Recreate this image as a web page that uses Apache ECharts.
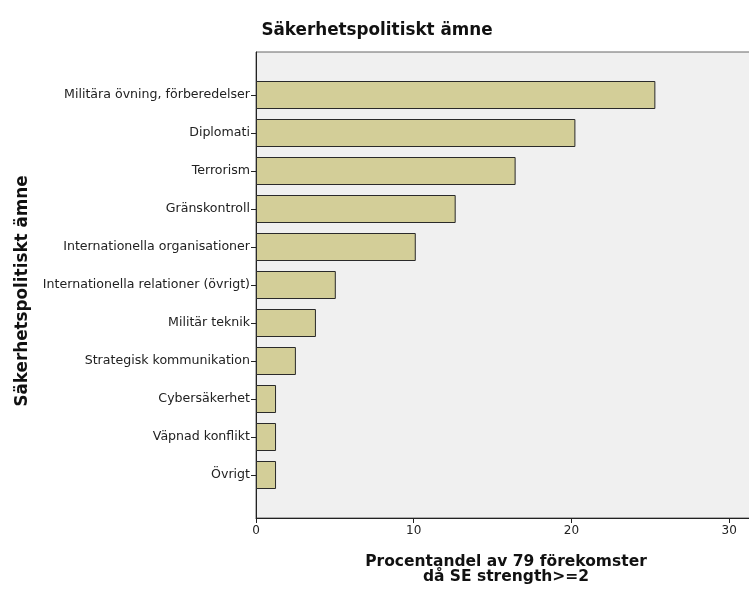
<!DOCTYPE html>
<html>
<head>
<meta charset="utf-8">
<script src="https://cdn.jsdelivr.net/npm/echarts@6/dist/echarts.min.js"></script>
<style>html,body{margin:0;padding:0;background:#fff;}#c{width:749px;height:590px;}</style>
</head>
<body>
<div id="c"></div>
<script>
const categories = [
  "Militära övning, förberedelser",
  "Diplomati",
  "Terrorism",
  "Gränskontroll",
  "Internationella organisationer",
  "Internationella relationer (övrigt)",
  "Militär teknik",
  "Strategisk kommunikation",
  "Cybersäkerhet",
  "Väpnad konflikt",
  "Övrigt"
];
const percentages = [25.32, 20.25, 16.46, 12.66, 10.13, 5.06, 3.80, 2.53, 1.27, 1.27, 1.27];
const xTicks = [0, 10, 20, 30];
const titleText = "Säkerhetspolitiskt ämne";
const yName = "Säkerhetspolitiskt ämne";
const xName = "Procentandel av 79 förekomster\ndå SE strength>=2";

const chart = echarts.init(document.getElementById('c'), null, {renderer: 'canvas'});
const FONT = 'DejaVu Sans';
const XMAX = 31.7;
chart.setOption({
  animation: false,
  backgroundColor: '#ffffff',
  title: {
    text: titleText,
    left: 372, top: 17, textAlign: 'center',
    textStyle: {fontFamily: FONT, fontSize: 16.8, fontWeight: 'bold', color: '#111'}
  },
  graphic: [
    {type: 'text', x: 23, y: 291, rotation: Math.PI / 2,
     style: {text: yName, fontFamily: FONT, fontSize: 16.8, fontWeight: 'bold', fill: '#111', align: 'center', verticalAlign: 'middle'}}
  ],
  grid: [
    {left: 256, top: 52, width: 500, height: 466, show: true, backgroundColor: '#f0f0f0', borderColor: '#666', borderWidth: 1, outerBoundsMode: 'none', containLabel: false},
    {left: 256, top: 76, width: 500, height: 418, outerBoundsMode: 'none', containLabel: false}
  ],
  xAxis: [
    {gridIndex: 0, type: 'value', min: 0, max: XMAX, interval: 10,
     name: xName, nameLocation: 'middle', nameGap: 36,
     nameTextStyle: {fontFamily: FONT, fontSize: 15.5, fontWeight: 'bold', color: '#111', lineHeight: 15, verticalAlign: 'top'},
     axisLine: {show: true, lineStyle: {color: '#222', width: 1}},
     axisTick: {show: true, length: 5, lineStyle: {color: '#222'}},
     splitLine: {show: false},
     axisLabel: {fontFamily: FONT, fontSize: 12, color: '#222', margin: 7,
       formatter: v => xTicks.indexOf(v) >= 0 ? String(v) : ''}},
    {gridIndex: 1, type: 'value', min: 0, max: XMAX, show: false, splitLine: {show: false}}
  ],
  yAxis: [
    {gridIndex: 0, type: 'value', min: 0, max: 1,
     axisLine: {show: true, lineStyle: {color: '#222', width: 1}},
     axisTick: {show: false}, axisLabel: {show: false}, splitLine: {show: false}},
    {gridIndex: 1, type: 'category', data: categories, inverse: true,
     axisLine: {show: false},
     axisTick: {show: true, alignWithLabel: true, length: 5, lineStyle: {color: '#222'}},
     axisLabel: {fontFamily: FONT, fontSize: 12.6, color: '#222', margin: 6}}
  ],
  series: [{
    type: 'bar', xAxisIndex: 1, yAxisIndex: 1,
    data: percentages, barWidth: 28,
    itemStyle: {color: '#d3ce98', borderColor: '#2a2a2a', borderWidth: 1}
  }]
});
</script>
</body>
</html>
